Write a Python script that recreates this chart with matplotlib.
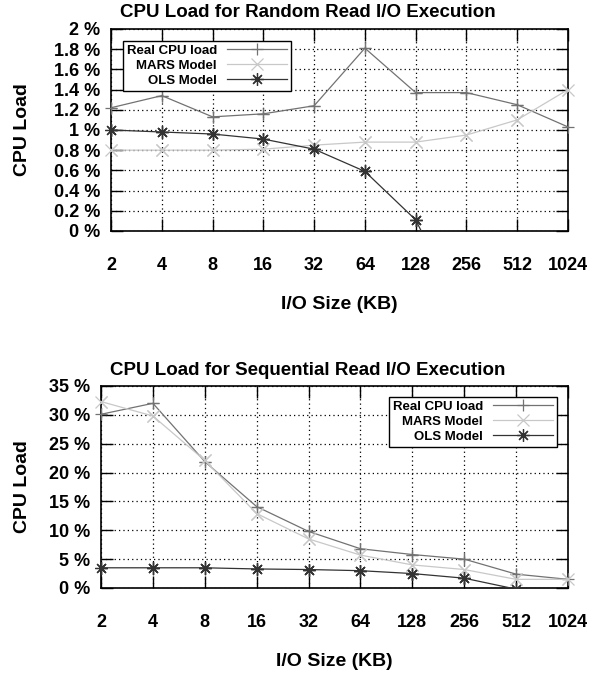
import numpy as np
import matplotlib
import matplotlib.pyplot as plt

matplotlib.use("Agg")

plt.rcParams['font.family'] = ['Liberation Sans', 'DejaVu Sans']
plt.rcParams['font.weight'] = 'bold'

io_sizes = ['2', '4', '8', '16', '32', '64', '128', '256', '512', '1024']

# random read (CPU load in %)
rand_real = [1.22, 1.34, 1.13, 1.16, 1.24, 1.81, 1.37, 1.37, 1.25, 1.03]
rand_mars = [0.80, 0.80, 0.80, 0.81, 0.85, 0.88, 0.88, 0.95, 1.10, 1.40]
rand_ols = [1.00, 0.98, 0.96, 0.91, 0.81, 0.59, 0.11, -0.90, np.nan, np.nan]

# sequential read (CPU load in %)
seq_real = [30.1, 32.0, 21.9, 14.1, 9.8, 6.8, 5.8, 5.0, 2.4, 1.5]
seq_mars = [32.3, 29.8, 22.1, 12.9, 8.5, 5.7, 4.0, 3.2, 1.5, 1.5]
seq_ols = [3.5, 3.5, 3.5, 3.3, 3.2, 3.0, 2.5, 1.7, -0.2, np.nan]

rand_yticks = [0, 0.2, 0.4, 0.6, 0.8, 1, 1.2, 1.4, 1.6, 1.8, 2]
rand_ylabels = ['0 %', '0.2 %', '0.4 %', '0.6 %', '0.8 %', '1 %', '1.2 %', '1.4 %', '1.6 %', '1.8 %', '2 %']
seq_yticks = [0, 5, 10, 15, 20, 25, 30, 35]
seq_ylabels = ['0 %', '5 %', '10 %', '15 %', '20 %', '25 %', '30 %', '35 %']

series_names = ['Real CPU load', 'MARS Model', 'OLS Model']
colors = ['#727272', '#c8c8c8', '#333333']
markers = ['+', 'x', (8, 2, 0)]


def draw_panel(ax, series, yticks, ylabels, ymax, legend_loc, legend_anchor, ylab_x):
    x = np.arange(len(io_sizes))
    for vals, name, c, m in zip(series, series_names, colors, markers):
        vals = np.array(vals, dtype=float)
        ax.plot(x, vals, color=c, lw=0.9, marker=m, ms=9, mew=0.9, label=name, zorder=3)
        # markers at the frame edge are not clipped (gnuplot style)
        inside = np.where((vals >= 0) & (vals <= ymax), vals, np.nan)
        ax.plot(x, inside, color=c, lw=0, marker=m, ms=9, mew=0.9, clip_on=False, zorder=3)

    ax.set_xlim(0, len(io_sizes) - 1)
    ax.set_ylim(0, ymax)
    ax.set_xticks(x)
    ax.set_xticklabels(io_sizes, fontsize=13, fontweight='bold')
    ax.set_yticks(yticks)
    ax.set_yticklabels(ylabels, fontsize=13, fontweight='bold')
    ax.tick_params(direction='in', length=8.5, width=1.0, top=True, right=True)
    ax.tick_params(axis='x', pad=19)
    ax.tick_params(axis='y', pad=8)
    ax.grid(True, color='black', linestyle=(0, (1, 2.5)), lw=0.9)
    ax.set_axisbelow(True)
    for s in ax.spines.values():
        s.set_linewidth(1.2)

    ax.set_xlabel('I/O Size (KB)', fontsize=14, fontweight='bold')
    ax.xaxis.label.set_va('center')
    ax.xaxis.set_label_coords(0.5, -0.366)
    ax.set_ylabel('CPU Load', fontsize=14, fontweight='bold')
    ax.yaxis.label.set_va('center')
    ax.yaxis.set_label_coords(ylab_x, 0.5)

    leg = ax.legend(loc=legend_loc, bbox_to_anchor=legend_anchor, borderaxespad=0,
                    markerfirst=False, fancybox=False, framealpha=1, edgecolor='black',
                    prop={'size': 9.5, 'weight': 'bold'}, handlelength=4.5,
                    handletextpad=0.8, labelspacing=0.2, borderpad=0.3)
    leg.get_frame().set_linewidth(1.0)


fig = plt.figure(figsize=(6.16, 6.74), dpi=100)
ax1 = fig.add_axes([0.1802, 0.6573, 0.7419, 0.2997])
ax2 = fig.add_axes([0.1640, 0.1276, 0.7581, 0.2997])

draw_panel(ax1, [rand_real, rand_mars, rand_ols], rand_yticks, rand_ylabels, 2,
           'upper left', (0.0256, 0.942), -0.1947)
draw_panel(ax2, [seq_real, seq_mars, seq_ols], seq_yticks, seq_ylabels, 35,
           'upper right', (0.976, 0.947), -0.169)

fig.text(0.5, 0.982, 'CPU Load for Random Read I/O Execution', ha='center', va='center',
         fontsize=13.5, fontweight='bold')
fig.text(0.5, 0.451, 'CPU Load for Sequential Read I/O Execution', ha='center', va='center',
         fontsize=13.5, fontweight='bold')

fig.savefig('out.png', dpi=100)
